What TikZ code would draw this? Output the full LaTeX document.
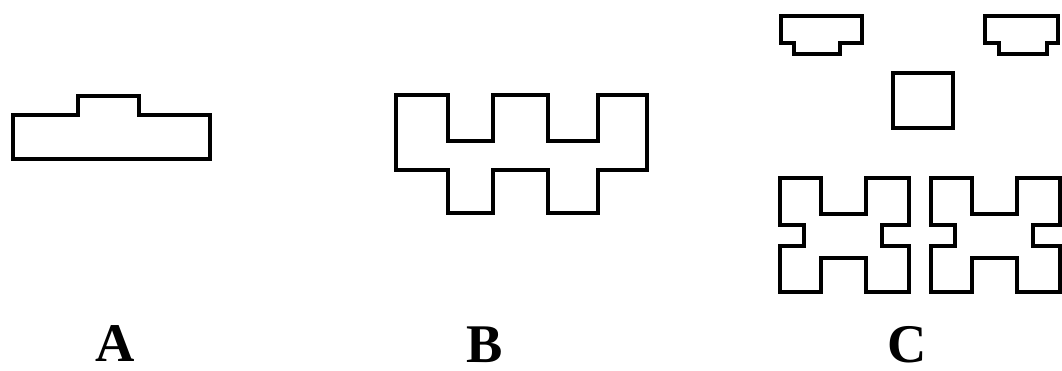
\documentclass[tikz,border=0pt]{standalone}
\usepackage{fontspec}
\setmainfont{Liberation Serif}
\begin{document}
\begin{tikzpicture}[x=0.02cm,y=-0.02cm,
        outline/.style={draw,line width=2.1pt},
        letter/.style={font=\fontsize{31}{36}\selectfont\bfseries,inner sep=0pt}]
        \useasboundingbox (0,0) rectangle (1062,371);
        \draw[outline] (13,159) -- (210,159) -- (210,115) -- (139,115) -- (139,96)
            -- (78,96) -- (78,115) -- (13,115) -- cycle;
        \draw[outline] (396,95) -- (448,95) -- (448,141) -- (493,141) -- (493,95)
            -- (548,95) -- (548,141) -- (598,141) -- (598,95) -- (647,95)
            -- (647,170) -- (598,170) -- (598,213) -- (548,213) -- (548,170)
            -- (493,170) -- (493,213) -- (448,213) -- (448,170) -- (396,170) -- cycle;
        \foreach \a/\b/\c/\d in {781/794/840/862,985/999/1047/1058} {
            \draw[outline] (\a,16) -- (\d,16) -- (\d,43) -- (\c,43) -- (\c,54)
                -- (\b,54) -- (\b,43) -- (\a,43) -- cycle;
        }
        \draw[outline] (893,73) rectangle (953,128);
        \foreach \x in {780,931} {
            \draw[outline,shift={(\x,0)}] (0,178) -- (41,178) -- (41,214) -- (86,214)
                -- (86,178) -- (129,178) -- (129,225) -- (102,225) -- (102,246)
                -- (129,246) -- (129,292) -- (86,292) -- (86,258) -- (41,258)
                -- (41,292) -- (0,292) -- (0,246) -- (24,246) -- (24,225)
                -- (0,225) -- cycle;
        }
        \node[letter] (labA) at (115,344) {A};
        \node[letter] (labB) at (485,345) {B};
        \node[letter] (labC) at (907,345) {C};
    \end{tikzpicture}
\end{document}
